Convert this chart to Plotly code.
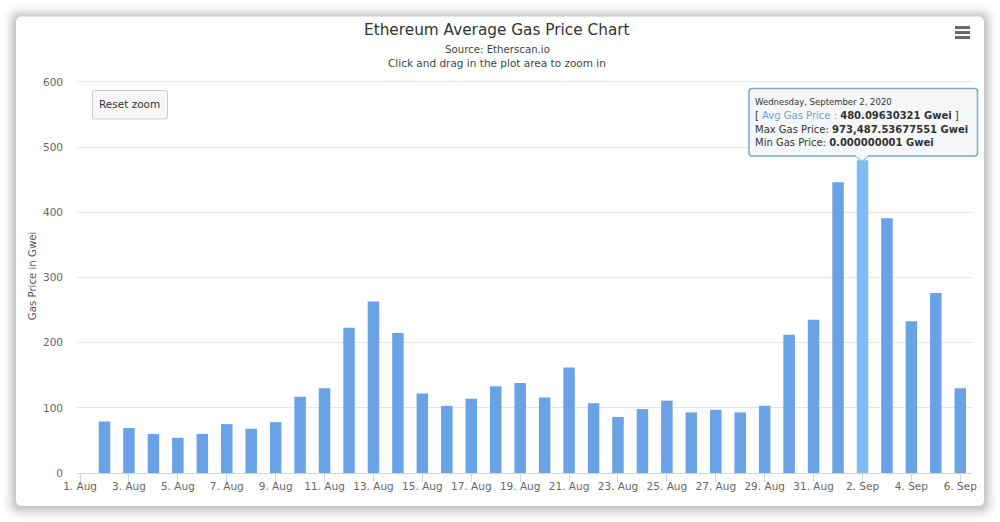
import pandas as pd
import plotly.graph_objects as go

W, H = 1000, 522
LEFT, RIGHT, TOP, BOTTOM = 77, 28, 79.5, 49
FONT = "DejaVu Sans"

start_date = "2020-08-02"
avg_gas_price = [79, 69, 60, 54, 60, 75, 68, 78, 117, 130, 223, 263, 215, 122, 103, 114, 133, 138,
                 116, 162, 107, 86, 98, 111, 93, 97, 93, 103, 212, 235, 446, 480, 391, 233, 276, 130]
hover_date = "2020-09-02"
bar_color = "#69a3e6"
hover_color = "#80bdf8"

dates = pd.date_range(start_date, periods=len(avg_gas_price), freq="D")
colors = [hover_color if d == pd.Timestamp(hover_date) else bar_color for d in dates]


# paper coordinates are relative to the plot area, not the page
def px(x):
    return (x - LEFT) / (W - LEFT - RIGHT)


def py(y):
    return (H - BOTTOM - y) / (H - TOP - BOTTOM)


def rounded_rect(x0, y0, x1, y1, r):
    a, b, c, d = px(x0), px(x1), py(y0), py(y1)
    rx, ry = r / (W - LEFT - RIGHT), r / (H - TOP - BOTTOM)
    return (f"M{a + rx},{c} L{b - rx},{c} Q{b},{c} {b},{c - ry} L{b},{d + ry} Q{b},{d} {b - rx},{d} "
            f"L{a + rx},{d} Q{a},{d} {a},{d + ry} L{a},{c - ry} Q{a},{c} {a + rx},{c} Z")


def box(x0, y0, x1, y1, r, fill, line=None, layer="above", width=1):
    return dict(type="path", xref="paper", yref="paper", path=rounded_rect(x0, y0, x1, y1, r),
                fillcolor=fill, line=dict(color=line or "rgba(0,0,0,0)", width=width), layer=layer)


shapes = []
# card shadow, thicker close to the card
for grow in range(15, 0, -1):
    alpha = 0.003 + 0.0017 * (15 - grow)
    shapes.append(box(16 - grow, 17 - grow, 984 + grow, 507 + grow, 6 + grow, f"rgba(0,0,0,{alpha:.4f})", layer="below"))
shapes.append(box(16, 16, 984, 506, 6, "#ffffff", layer="below"))

# reset zoom button
shapes.append(box(92.5, 90, 167.5, 118.5, 2, "#f7f7f7", "#cccccc"))

# export menu icon
for y in (27, 32, 37):
    shapes.append(dict(type="line", xref="paper", yref="paper", x0=px(955), x1=px(970), y0=py(y), y1=py(y),
                       line=dict(color="#666666", width=3)))

# tooltip box and its pointer
shapes.append(box(749, 88, 977.5, 155.5, 3, "rgba(246,247,248,0.97)", "#7aa6d2", width=1.5))
shapes.append(dict(type="path", xref="paper", yref="paper",
                   path=f"M{px(855)},{py(155.5)} L{px(862)},{py(161)} L{px(869)},{py(155.5)} Z",
                   fillcolor="#f6f7f8", line=dict(color="#7aa6d2", width=1)))
shapes.append(dict(type="line", xref="paper", yref="paper", x0=px(856), x1=px(868), y0=py(155.5), y1=py(155.5),
                   line=dict(color="#f6f7f8", width=2)))

annotations = [
    dict(text="Ethereum Average Gas Price Chart", x=px(497), y=py(29), font=dict(size=15.3, color="#333333")),
    dict(text="Source: Etherscan.io", x=px(497), y=py(49), font=dict(size=10.2, color="#444444")),
    dict(text="Click and drag in the plot area to zoom in", x=px(497), y=py(62.5), font=dict(size=10.5, color="#444444")),
    dict(text="Reset zoom", x=px(129.5), y=py(103.5), font=dict(size=10.5, color="#333333")),
    dict(text="Gas Price in Gwei", x=px(32), y=py(276), textangle=-90, font=dict(size=10.2, color="#555555")),
    dict(text="Wednesday, September 2, 2020", x=px(753), y=py(102), xanchor="left",
         font=dict(size=8.5, color="#333333")),
    dict(text="[ <span style='color:#6ba3dc'>Avg Gas Price :</span> <b>480.09630321 Gwei</b> ]",
         x=px(753), y=py(115.5), xanchor="left", font=dict(size=10, color="#333333")),
    dict(text="Max Gas Price: <b>973,487.53677551 Gwei</b>", x=px(753), y=py(129), xanchor="left",
         font=dict(size=10, color="#333333")),
    dict(text="Min Gas Price: <b>0.000000001 Gwei</b>", x=px(753), y=py(142.5), xanchor="left",
         font=dict(size=10, color="#333333")),
]
for a in annotations:
    a.update(xref="paper", yref="paper", showarrow=False)
    a.setdefault("xanchor", "center")
    a["yanchor"] = "middle"

fig = go.Figure(go.Bar(x=dates, y=avg_gas_price, marker=dict(color=colors, line=dict(width=0)),
                       width=0.47 * 86400000, name="Avg Gas Price"))

fig.update_layout(
    width=W, height=H,
    margin=dict(l=LEFT, r=RIGHT, t=TOP, b=BOTTOM),
    paper_bgcolor="#ffffff", plot_bgcolor="rgba(0,0,0,0)",
    font=dict(family=FONT, size=11, color="#666666"),
    showlegend=False,
    shapes=shapes,
    annotations=annotations,
)
fig.update_xaxes(
    type="date",
    range=["2020-07-31 21:00", "2020-09-06 11:30"],
    tick0="2020-08-01", dtick=2 * 86400000, tickformat="%-d. %b",
    ticks="outside", ticklen=8, tickcolor="#ccd6eb", tickwidth=1,
    ticklabelstandoff=-5,
    showline=True, linecolor="#ccd6eb", linewidth=1, showgrid=False, zeroline=False,
    tickfont=dict(size=10.5, color="#666666"),
)
fig.update_yaxes(
    # above 600 so that plotly does not clip the top gridline at the edge
    range=[0, 603], tick0=0, dtick=100,
    showgrid=True, gridcolor="#e6e6e6", gridwidth=1, zeroline=False, showline=False,
    ticks="", ticklabelstandoff=13,
    tickfont=dict(size=10.5, color="#666666"),
)

fig.write_html("out.html", config=dict(displayModeBar=False),
               post_script="document.body.style.margin='0';")
